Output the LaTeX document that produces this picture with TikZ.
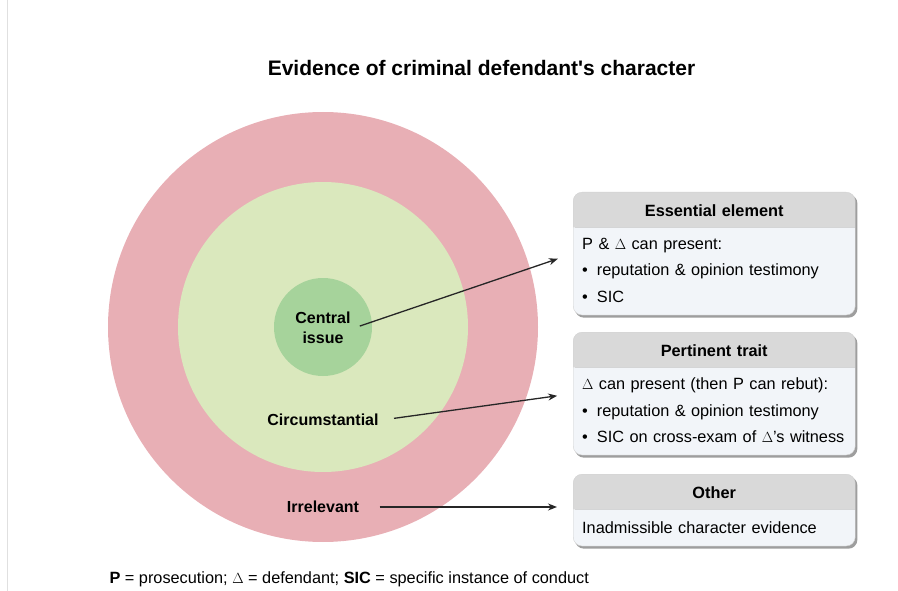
\documentclass[tikz,border=0pt]{standalone}
\usepackage{fontspec}
\setmainfont{Liberation Sans}
\usetikzlibrary{shapes.multipart,arrows.meta,backgrounds}

\definecolor{ringout}{HTML}{E8AFB5}
\definecolor{ringmid}{HTML}{DAE8BD}
\definecolor{ringin}{HTML}{A6D39B}
\definecolor{cardhead}{HTML}{D9D9D9}
\definecolor{cardbody}{HTML}{F2F5F9}

\newcommand{\dlt}{\scalebox{0.85}{$\Delta$}}

\begin{document}
\begin{tikzpicture}[x=1pt, y=-1pt, >={Stealth[length=9pt, width=7pt]},
  card/.style={rectangle split, rectangle split parts=2,
    rectangle split draw splits=false, rectangle split part fill={cardhead,cardbody},
    draw=black!18, rounded corners=9pt, text width=264pt, inner xsep=9pt,
    inner ysep=0pt, align=left, anchor=north west,
    font=\fontsize{16.3}{26.5}\selectfont},
  ring/.style={font=\bfseries\fontsize{16}{20}\selectfont, align=center},
  link/.style={->, line width=1.3pt, black!85, shorten >=16pt}]

  \useasboundingbox (0,0) rectangle (898,591);
  \draw[black!12, line width=1pt] (7,0) -- (7,591);

  \node[font=\bfseries\fontsize{21}{25}\selectfont, anchor=base] (title) at (481.5,75.5)
    {Evidence of criminal defendant\textquotesingle s character};

  % the three rings
  \fill[ringout] (323,327) circle (215pt);
  \fill[ringmid] (323,327) circle (145pt);
  \fill[ringin] (323,327) circle (49pt);

  \node[ring] (cen) at (323,328) {Central\\issue};
  \node[ring] (circ) at (323,420) {Circumstantial};
  \node[ring] (irr) at (323,507) {Irrelevant};

  % boxes on the right
  \node[card] (ess) at (573,192)
    {{\centering\bfseries\rule[-11.3pt]{0pt}{35pt}Essential element\par}
     \nodepart{two}\rule{0pt}{21.7pt}P \& \dlt\ can present:\\
     \textbullet\hspace{9pt}reputation \& opinion testimony\\
     \textbullet\hspace{9pt}SIC\rule[-12.3pt]{0pt}{12.3pt}};
  \node[card] (pert) at (573,332)
    {{\centering\bfseries\rule[-11.3pt]{0pt}{35pt}Pertinent trait\par}
     \nodepart{two}\rule{0pt}{21.7pt}\dlt\ can present (then P can rebut):\\
     \textbullet\hspace{9pt}reputation \& opinion testimony\\
     \textbullet\hspace{9pt}SIC on cross-exam of \dlt's witness\rule[-12.3pt]{0pt}{12.3pt}};
  \node[card] (oth) at (573,474)
    {{\centering\bfseries\rule[-11.3pt]{0pt}{35pt}Other\par}
     \nodepart{two}\rule{0pt}{23.7pt}Inadmissible character evidence\rule[-12.3pt]{0pt}{12.3pt}};

  % shadows under the boxes
  \begin{scope}[on background layer]
    \foreach \c in {ess,pert,oth}
      \fill[black!38, rounded corners=9pt] ([shift={(2pt,-2.5pt)}]\c.north west)
        rectangle ([shift={(2pt,-2.5pt)}]\c.south east);
  \end{scope}

  \draw[link, shorten <=6pt] (cen.east) -- (ess.west);
  \draw[link, shorten <=12pt] (circ.east) -- (pert.west);
  \draw[link, shorten <=17pt] (irr.east) -- (irr.east -| oth.west);

  \node[anchor=base west, font=\fontsize{16.3}{20}\selectfont] (key) at (106,583.7)
    {\textbf{P} = prosecution; \dlt\ = defendant; \textbf{SIC} = specific instance of conduct};
\end{tikzpicture}
\end{document}
